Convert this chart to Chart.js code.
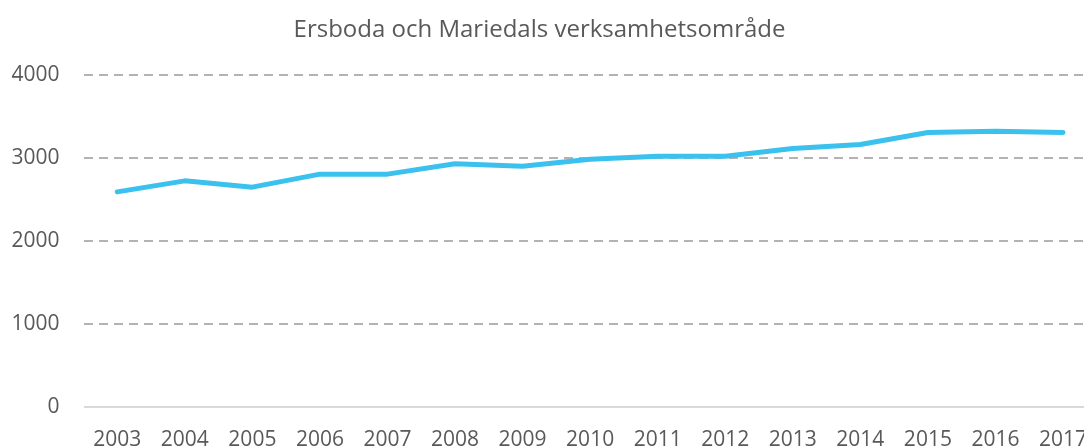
<!DOCTYPE html>
<html>
<head>
<meta charset="utf-8">
<script src="https://cdn.jsdelivr.net/npm/chart.js@4"></script>
<style>
  html, body { margin: 0; padding: 0; background: #fff; overflow: hidden; }
  /* the plot runs a little past the right edge, as in the original */
  #wrap { width: 1110px; height: 448px; }
</style>
</head>
<body>
<div id="wrap"><canvas id="myChart"></canvas></div>
<script>
// years along the x axis
const years = ['2003', '2004', '2005', '2006', '2007', '2008', '2009', '2010',
  '2011', '2012', '2013', '2014', '2015', '2016', '2017'];
// values
const values = [2590, 2723, 2647, 2804, 2804, 2928, 2900, 2984,
  3020, 3020, 3113, 3161, 3306, 3320, 3306];
const yTicks = [0, 1000, 2000, 3000, 4000];
const chartTitle = 'Ersboda och Mariedals verksamhetsområde';

Chart.defaults.font.family = '"Open Sans", sans-serif';
Chart.defaults.color = '#595959';

var ctx = document.getElementById('myChart').getContext('2d');
var myChart = new Chart(ctx, {
  type: 'line',
  data: {
    labels: years,
    datasets: [{
      label: 'Antal',
      data: values,
      borderColor: '#3bc1ee',
      borderWidth: 5,
      borderCapStyle: 'round',
      borderJoinStyle: 'round',
      pointRadius: 0,
      tension: 0,
      fill: false
    }]
  },
  options: {
    responsive: true,
    maintainAspectRatio: false,
    animation: false,
    layout: { padding: { left: -31, right: 0, top: 0, bottom: -26 } },
    plugins: {
      legend: { display: false },
      tooltip: { enabled: false },
      title: {
        display: true,
        text: chartTitle,
        color: '#595959',
        font: { size: 24, weight: 'normal', lineHeight: 1.2 },
        padding: { top: 16, bottom: 30 }
      }
    },
    scales: {
      x: {
        offset: true,
        grid: { display: false, drawTicks: false },
        border: { display: false },
        ticks: { font: { size: 21, lineHeight: 1 }, padding: 23, maxRotation: 0, autoSkip: false }
      },
      y: {
        min: yTicks[0],
        max: yTicks[yTicks.length - 1],
        afterBuildTicks: function (axis) {
          axis.ticks = yTicks.map(function (v) { return { value: v }; });
        },
        afterFit: function (axis) { axis.width = 114.5; },
        grid: {
          drawTicks: false,
          lineWidth: 2,
          color: function (c) { return c.tick.value === 0 ? '#d9d9d9' : '#b3b3b3'; }
        },
        border: {
          display: false,
          dash: function (c) { return c.tick && c.tick.value === 0 ? [] : [9, 6]; }
        },
        ticks: {
          font: { size: 21 },
          padding: 24,
          callback: function (v) { return String(v); }
        }
      }
    }
  }
});
</script>
</body>
</html>
